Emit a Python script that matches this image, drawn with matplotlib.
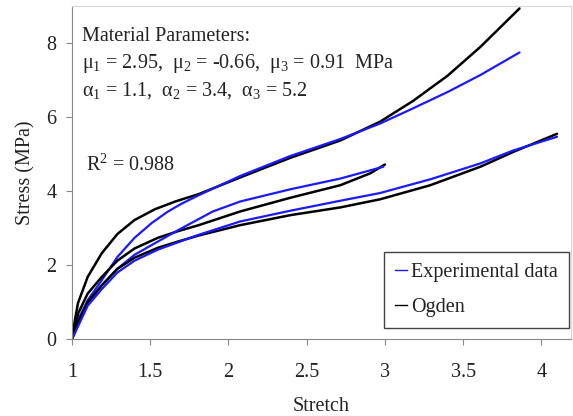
import matplotlib
matplotlib.use("Agg")
import matplotlib.pyplot as plt

plt.rcParams["font.family"] = ["Liberation Serif", "DejaVu Serif"]
plt.rcParams["mathtext.fontset"] = "custom"
plt.rcParams["mathtext.rm"] = "Liberation Serif"
plt.rcParams["mathtext.it"] = "Liberation Serif"

# curve 1 (steepest, ends near 3.9)
x1_exp = [1, 1.038, 1.10, 1.19, 1.29, 1.40, 1.51, 1.61, 1.70, 1.81, 2.075, 2.395, 2.715, 2.97, 3.18, 3.40, 3.61, 3.86]
y1_exp = [0, 0.51, 1.05, 1.59, 2.22, 2.74, 3.14, 3.44, 3.66, 3.89, 4.41, 4.95, 5.41, 5.83, 6.24, 6.68, 7.14, 7.75]
x1_fit = [1, 1.02, 1.038, 1.10, 1.19, 1.29, 1.40, 1.53, 1.66, 1.81, 2.075, 2.395, 2.715, 2.97, 3.18, 3.40, 3.61, 3.86]
y1_fit = [0, 0.55, 0.97, 1.68, 2.32, 2.84, 3.22, 3.51, 3.72, 3.92, 4.37, 4.90, 5.37, 5.88, 6.44, 7.12, 7.90, 8.94]

# curve 2 (ends at 3)
x2_exp = [1, 1.05, 1.10, 1.19, 1.29, 1.40, 1.55, 1.68, 1.755, 1.90, 2.075, 2.395, 2.715, 2.99]
y2_exp = [0, 0.50, 0.95, 1.45, 1.90, 2.28, 2.64, 2.95, 3.12, 3.45, 3.72, 4.05, 4.34, 4.66]
x2_fit = [1, 1.04, 1.10, 1.19, 1.29, 1.40, 1.55, 1.68, 1.81, 2.075, 2.395, 2.715, 2.905, 3.0]
y2_fit = [0, 0.70, 1.23, 1.68, 2.12, 2.45, 2.74, 2.92, 3.08, 3.45, 3.82, 4.16, 4.48, 4.72]

# curve 3 (ends near 4.1)
x3_exp = [1, 1.05, 1.10, 1.19, 1.29, 1.40, 1.55, 1.68, 1.81, 2.075, 2.395, 2.715, 2.97, 3.29, 3.61, 3.82, 4.10]
y3_exp = [0, 0.45, 0.90, 1.35, 1.80, 2.12, 2.42, 2.62, 2.82, 3.18, 3.47, 3.74, 3.95, 4.32, 4.75, 5.10, 5.47]
x3_fit = [1, 1.05, 1.10, 1.19, 1.29, 1.40, 1.55, 1.68, 1.81, 2.075, 2.395, 2.715, 2.97, 3.29, 3.61, 3.82, 4.10]
y3_fit = [0, 0.55, 1.00, 1.45, 1.90, 2.20, 2.47, 2.64, 2.80, 3.08, 3.35, 3.56, 3.78, 4.16, 4.66, 5.06, 5.55]

xticks = [1, 1.5, 2, 2.5, 3, 3.5, 4]
xticklabels = ["1", "1.5", "2", "2.5", "3", "3.5", "4"]
yticks = [0, 2, 4, 6, 8]

BLUE = "#1a1aff"
FS = 14.5
tc = "#222222"

fig = plt.figure(figsize=(5.73, 4.16), dpi=100)
ax = fig.add_axes([0.1257, 0.185, 0.871, 0.80])

for xe, ye, xf, yf in [(x1_exp, y1_exp, x1_fit, y1_fit),
                       (x2_exp, y2_exp, x2_fit, y2_fit),
                       (x3_exp, y3_exp, x3_fit, y3_fit)]:
    ax.plot(xf, yf, color="black", lw=1.8, solid_capstyle="round", solid_joinstyle="round")
    ax.plot(xe, ye, color=BLUE, lw=1.6, solid_capstyle="round", solid_joinstyle="round")

ax.plot([], [], color=BLUE, lw=1, label="Experimental data")
ax.plot([], [], color="black", lw=1, label="Ogden")

ax.set_xlim(1, 4.19)
ax.set_ylim(0, 9)
ax.set_xticks(xticks)
ax.set_xticklabels(xticklabels)
ax.set_yticks(yticks)
ax.tick_params(direction="out", length=4, color="#888888", labelsize=FS,
               labelcolor=tc)
ax.tick_params(axis="x", pad=13)
ax.tick_params(axis="y", pad=7)
for s in ["left", "bottom"]:
    ax.spines[s].set_color("#888888")
for s in ["top", "right"]:
    ax.spines[s].set_color("#d8d8d8")
ax.set_xlabel("Stretch", fontsize=FS, color=tc, labelpad=11)
ax.set_ylabel("Stress (MPa)", fontsize=FS, color=tc, labelpad=8)

ax.text(0.02, 0.91, "Material Parameters:", transform=ax.transAxes,
        fontsize=FS, color=tc, va="center")
ax.text(0.02, 0.829, "μ$_1$ = 2.95,  μ$_2$ = -0.66,  μ$_3$ = 0.91  MPa",
        transform=ax.transAxes, fontsize=FS, color=tc, va="center")
ax.text(0.02, 0.748, "α$_1$ = 1.1,  α$_2$ = 3.4,  α$_3$ = 5.2",
        transform=ax.transAxes, fontsize=FS, color=tc, va="center")
ax.text(0.028, 0.523, "R$^2$ = 0.988", transform=ax.transAxes,
        fontsize=FS, color=tc, va="center")

leg = ax.legend(loc="lower right", bbox_to_anchor=(0.996, 0.033), fontsize=FS,
                handlelength=0.6, handletextpad=0.2, fancybox=False, framealpha=1,
                edgecolor="#444444", borderpad=0.55, labelspacing=0.8,
                borderaxespad=0.0)
leg.get_frame().set_linewidth(1.0)
for t in leg.get_texts():
    t.set_color(tc)

fig.savefig("out.png", dpi=100)
